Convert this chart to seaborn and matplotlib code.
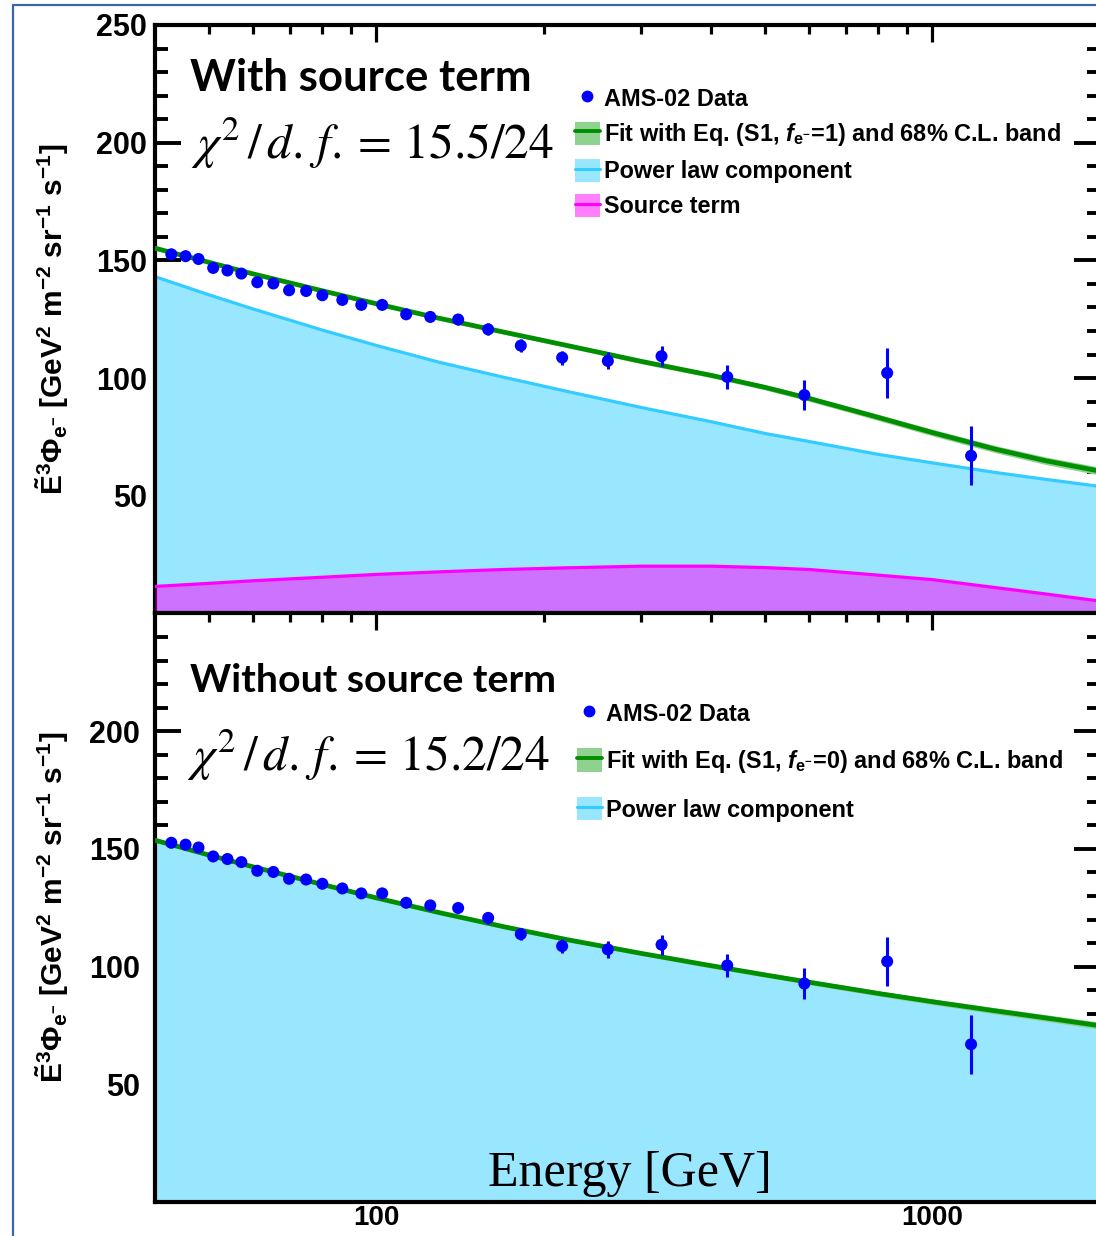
import numpy as np
import pandas as pd
import matplotlib
matplotlib.use("Agg")
import matplotlib.pyplot as plt
import seaborn as sns
from matplotlib.lines import Line2D
from matplotlib.patches import Patch
from matplotlib.ticker import FixedLocator, MultipleLocator, NullFormatter

# ---------------- data ----------------
energy = [42.8, 45.4, 47.9, 50.9, 54.0, 57.2, 61.1, 65.3, 69.7, 74.8, 80.0, 86.9, 94.0,
          102.5, 113.2, 125.1, 140.4, 159, 182, 216, 261, 326, 428, 589, 830, 1175]
flux = [152.6, 151.8, 150.6, 146.8, 145.7, 144.4, 140.7, 140.2, 137.3, 137.0, 135.2, 133.2, 131.1,
        131.1, 127.1, 126.0, 124.9, 120.7, 113.8, 108.7, 107.3, 109.3, 100.5, 92.8, 102.2, 67.0]
flux_err = [0.9, 0.9, 1.0, 1.0, 1.0, 1.1, 1.1, 1.2, 1.2, 1.3, 1.4, 1.5, 1.6,
            1.7, 1.8, 2.0, 2.3, 2.6, 2.6, 3.0, 3.6, 4.3, 5.0, 6.4, 10.5, 12.5]

curve_energy = [40, 50, 60, 80, 100, 130, 170, 220, 300, 400, 500, 600, 800, 1000, 1300, 1600, 2000]
fit_top = [155.2, 149.2, 144.3, 137.1, 131.6, 125.4, 119.5, 113.9, 107.1, 101.2, 96.1, 91.4,
           83.3, 76.9, 69.8, 64.9, 60.5]
fit_top_band = [0.8, 0.8, 0.8, 0.8, 0.8, 0.9, 0.9, 0.9, 1.0, 1.0, 1.1, 1.2, 1.3, 1.4, 1.5, 1.6, 1.7]
powerlaw_top = [143.1, 135.4, 129.4, 120.4, 113.9, 106.7, 100.3, 94.4, 87.5, 81.5, 76.5, 73.1,
                67.6, 64.0, 59.9, 57.0, 54.0]
source_top = [11.5, 12.8, 13.9, 15.4, 16.6, 17.7, 18.7, 19.4, 20.1, 20.1, 19.5, 18.7,
              16.3, 14.4, 11.0, 8.3, 5.3]
fit_bottom = [153.7, 147.4, 142.4, 134.9, 129.2, 122.9, 116.9, 111.5, 105.6, 100.4, 96.5, 93.4,
              88.6, 85.1, 81.2, 78.2, 74.9]
fit_bottom_band = [0.8, 0.8, 0.8, 0.8, 0.8, 0.8, 0.9, 0.9, 0.9, 1.0, 1.0, 1.1, 1.1, 1.2, 1.3, 1.4, 1.5]

y_major_top = [50, 100, 150, 200, 250]
y_major_bottom = [50, 100, 150, 200]
x_major = [100, 1000]
x_major_labels = ["100", "1000"]
x_minor = [50, 60, 70, 80, 90, 200, 300, 400, 500, 600, 700, 800, 900, 2000]

data_df = pd.DataFrame({"E": energy, "flux": flux, "err": flux_err})
curve_df = pd.DataFrame({"E": curve_energy, "fit_top": fit_top, "band_top": fit_top_band,
                         "pl_top": powerlaw_top, "src_top": source_top,
                         "fit_bot": fit_bottom, "band_bot": fit_bottom_band})

# ---------------- style ----------------
sns.set_theme(style="ticks")
plt.rcParams["font.family"] = ["Liberation Sans", "DejaVu Sans"]
plt.rcParams.update({
    "font.weight": "normal",
    "axes.labelweight": "bold",
    "text.color": "black",
    "axes.labelcolor": "black",
    "xtick.color": "black",
    "ytick.color": "black",
    "mathtext.fontset": "custom",
    "mathtext.rm": "Liberation Sans:bold",
    "mathtext.it": "Liberation Sans:bold:italic",
    "mathtext.bf": "Liberation Sans:bold",
    "axes.linewidth": 3.0,
    "axes.edgecolor": "black",
})

W, H = 1096, 1236
fig = plt.figure(figsize=(W / 100, H / 100), dpi=100)


def fx(px):
    return px / W


def fy(py):
    return 1 - py / H


x_left, x_right = 155, 1099.5
top_y0, mid_y, bot_y1 = 25, 613.5, 1202
ax1 = fig.add_axes([fx(x_left), fy(mid_y), fx(x_right) - fx(x_left), fy(top_y0) - fy(mid_y)])
ax2 = fig.add_axes([fx(x_left), fy(bot_y1), fx(x_right) - fx(x_left), fy(mid_y) - fy(bot_y1)])

GREEN = "#008f00"
GREEN_BAND = "#8fd18f"
CYAN = "#33ccff"
CYAN_FILL = "#99e6ff"
MAGENTA = "#ff00ff"
BLUE = "#0000ff"

for ax in (ax1, ax2):
    ax.set_xscale("log")
    ax.set_xlim(40, 2000)
    ax.set_ylim(0, 250)

# ---- top panel ----
ax1.fill_between(curve_df["E"], 0, curve_df["pl_top"], color=CYAN_FILL, lw=0, zorder=1)
sns.lineplot(data=curve_df, x="E", y="pl_top", ax=ax1, color=CYAN, lw=2.3, estimator=None,
             sort=False, legend=False, zorder=2)
ax1.fill_between(curve_df["E"], 0, curve_df["src_top"], color=MAGENTA, alpha=0.5, lw=0, zorder=3)
sns.lineplot(data=curve_df, x="E", y="src_top", ax=ax1, color=MAGENTA, lw=2.3, estimator=None,
             sort=False, legend=False, zorder=4)
ax1.fill_between(curve_df["E"], curve_df["fit_top"] - curve_df["band_top"],
                 curve_df["fit_top"] + curve_df["band_top"], color=GREEN_BAND, lw=0, zorder=5)
sns.lineplot(data=curve_df, x="E", y="fit_top", ax=ax1, color=GREEN, lw=3.4, estimator=None,
             sort=False, legend=False, zorder=6)

# ---- bottom panel ----
ax2.fill_between(curve_df["E"], 0, curve_df["fit_bot"], color=CYAN_FILL, lw=0, zorder=1)
sns.lineplot(data=curve_df, x="E", y="fit_bot", ax=ax2, color=CYAN, lw=2.3, estimator=None,
             sort=False, legend=False, zorder=2)
ax2.fill_between(curve_df["E"], curve_df["fit_bot"] - curve_df["band_bot"],
                 curve_df["fit_bot"] + curve_df["band_bot"], color=GREEN_BAND, lw=0, zorder=5)
sns.lineplot(data=curve_df, x="E", y="fit_bot", ax=ax2, color=GREEN, lw=3.4, estimator=None,
             sort=False, legend=False, zorder=6)

# ---- data points ----
for ax in (ax1, ax2):
    ax.errorbar(data_df["E"], data_df["flux"], yerr=data_df["err"], fmt="none",
                ecolor=BLUE, elinewidth=2.2, capsize=0, zorder=9)
    sns.scatterplot(data=data_df, x="E", y="flux", ax=ax, color=BLUE, s=75,
                    edgecolor="none", legend=False, zorder=10)
    ax.set_xlabel("")

# ---- axes / ticks ----
for ax, majors, ypad in ((ax1, y_major_top, 6), (ax2, y_major_bottom, 11)):
    ax.yaxis.set_major_locator(FixedLocator(majors))
    ax.yaxis.set_minor_locator(MultipleLocator(10))
    ax.xaxis.set_major_locator(FixedLocator(x_major))
    ax.xaxis.set_minor_locator(FixedLocator(x_minor))
    ax.xaxis.set_minor_formatter(NullFormatter())
    ax.set_yticklabels([str(v) for v in majors])
    ax.tick_params(axis="both", which="both", direction="in", top=True, right=True)
    ax.tick_params(axis="y", which="major", length=19, width=2.8, labelsize=22, pad=ypad)
    ax.tick_params(axis="y", which="minor", length=9.5, width=2.8)
    ax.tick_params(axis="x", which="major", length=12.5, width=2.3, labelsize=20, pad=2)
    ax.tick_params(axis="x", which="minor", length=6.5, width=2.3)
    for sp in ax.spines.values():
        sp.set_linewidth(3.0)

ax1.set_xticklabels(["", ""])
ax2.set_xticklabels(x_major_labels)
for ax in (ax1, ax2):
    for lab in ax.get_yticklabels() + ax.get_xticklabels():
        lab.set_fontweight("bold")

ylab = (r"$\tilde{\mathrm{E}}^{3}\Phi_{\mathrm{e}^{-}}$ [GeV$^{2}$ m$^{-2}$ sr$^{-1}$ s$^{-1}$]")
for ax in (ax1, ax2):
    ax.set_ylabel(ylab, fontsize=21.5, fontweight="bold")
    ax.yaxis.set_label_coords((71 - x_left) / (x_right - x_left), 0.5)

# ---- texts ----
fig.text(fx(190), fy(91), "With source term", fontfamily="Lato", fontweight="bold",
         fontsize=31.5, va="baseline", ha="left")
fig.text(fx(190), fy(692), "Without source term", fontfamily="Lato", fontweight="bold",
         fontsize=28.3, va="baseline", ha="left")
chi_top = r"$\chi^2\,/\,d.\,f.=\,15.5/24$"
chi_bot = r"$\chi^2\,/\,d.\,f.=\,15.2/24$"
fig.text(fx(191), fy(159), chi_top, math_fontfamily="stix",
         fontsize=35.5, va="baseline", ha="left", fontweight="normal")
fig.text(fx(187), fy(771), chi_bot, math_fontfamily="stix",
         fontsize=35.5, va="baseline", ha="left", fontweight="normal")
fig.text(fx(630), fy(1186), "Energy [GeV]", fontfamily="Liberation Serif", fontweight="normal",
         fontsize=36, va="baseline", ha="center")

# ---- legends ----
leg_prop = {"family": "Liberation Sans", "weight": "bold", "size": 16.9}
h_data = Line2D([], [], marker="o", color=BLUE, linestyle="none", markersize=7.5)
h_fit = (Patch(facecolor=GREEN_BAND, edgecolor="none"), Line2D([], [], color=GREEN, lw=2.8))
h_pl = (Patch(facecolor=CYAN_FILL, edgecolor="none"), Line2D([], [], color=CYAN, lw=2.2))
h_src = (Patch(facecolor=MAGENTA, alpha=0.5, edgecolor="none"), Line2D([], [], color=MAGENTA, lw=2.2))

leg1 = ax1.legend([h_data, h_fit, h_pl, h_src],
                  ["AMS-02 Data", r"Fit with Eq. (S1, $\mathit{f}_{\mathrm{e}^{-}}$=1) and 68% C.L. band",
                   "Power law component", "Source term"],
                  loc="upper left", bbox_to_anchor=(fx(575), fy(86)), bbox_transform=fig.transFigure,
                  frameon=False, prop=leg_prop, handlelength=1.05, handleheight=1.15,
                  handletextpad=0.2, labelspacing=0.45, borderpad=0, borderaxespad=0)
leg2 = ax2.legend([h_data, h_fit, h_pl],
                  ["AMS-02 Data", r"Fit with Eq. (S1, $\mathit{f}_{\mathrm{e}^{-}}$=0) and 68% C.L. band",
                   "Power law component"],
                  loc="upper left", bbox_to_anchor=(fx(577), fy(701)), bbox_transform=fig.transFigure,
                  frameon=False, prop=leg_prop, handlelength=1.05, handleheight=1.15,
                  handletextpad=0.2, labelspacing=0.95, borderpad=0, borderaxespad=0)
for leg in (leg1, leg2):
    leg.set_zorder(20)

# ---- slide frame ----
frame_c = "#3d66aa"
fig.add_artist(Line2D([fx(13), fx(13)], [0, fy(5)], transform=fig.transFigure, color=frame_c, lw=1.6))
fig.add_artist(Line2D([fx(13), 1], [fy(5), fy(5)], transform=fig.transFigure, color=frame_c, lw=1.6))

fig.savefig("out.png", dpi=100)
